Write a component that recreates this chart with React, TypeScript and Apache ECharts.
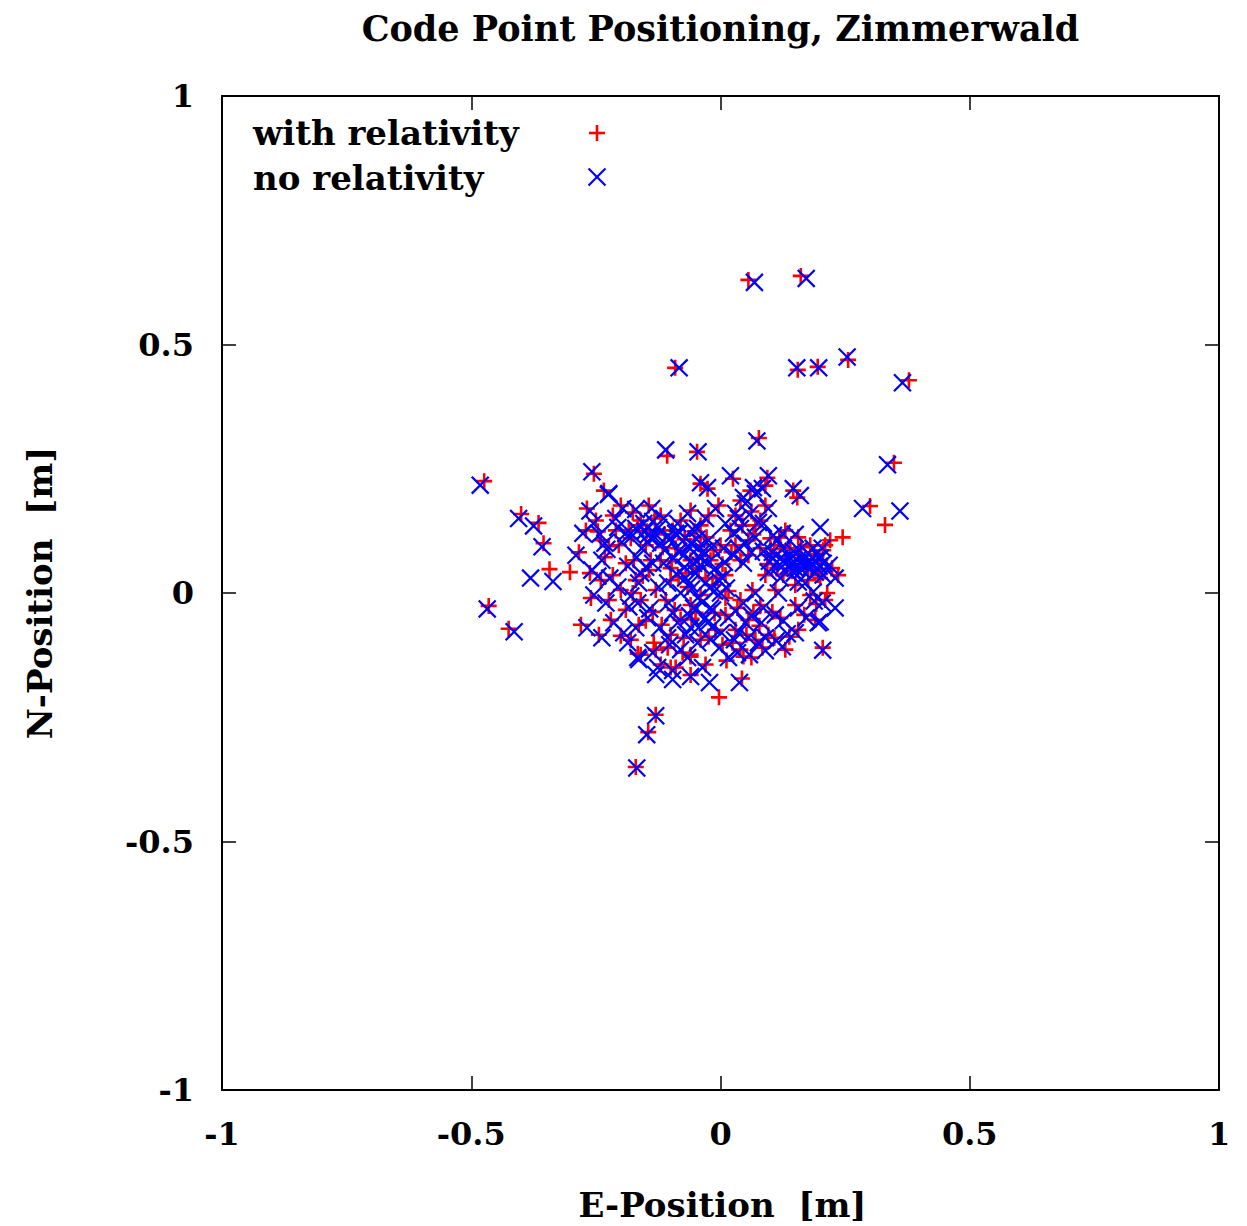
import React, { useEffect, useRef } from "react";
import * as echarts from "echarts";

const titleText = "Code Point Positioning, Zimmerwald";
const xName = "E-Position  [m]";
const yName = "N-Position  [m]";
const seriesNames = ["with relativity", "no relativity"];

// with relativity (red +), [E, N] in metres
const withRel: number[][] = [
  [0.056, 0.630], [0.161, 0.638], [-0.091, 0.453], [0.155, 0.449], [0.195, 0.455],
  [0.256, 0.469], [0.378, 0.428], [0.077, 0.312], [-0.047, 0.284], [-0.107, 0.276],
  [0.348, 0.262], [0.300, 0.175], [0.330, 0.137], [-0.474, 0.225], [-0.400, 0.159],
  [-0.365, 0.141], [-0.355, 0.100], [-0.343, 0.048], [-0.302, 0.042], [-0.465, -0.026],
  [-0.425, -0.072], [-0.280, -0.064], [0.245, 0.112], [-0.170, -0.350], [-0.145, -0.280],
  [-0.130, -0.245], [-0.003, -0.210], [0.043, -0.172], [0.205, -0.110], [-0.060, -0.165],
  [-0.100, -0.150], [-0.026, 0.210], [0.025, 0.230], [0.094, 0.232], [0.146, 0.206],
  [0.220, 0.106], [0.206, 0.086], [0.214, 0.000], [-0.040, 0.220],
  [-0.254, 0.240], [-0.234, 0.206], [-0.268, 0.170], [-0.250, 0.146], [-0.270, 0.126],
  [-0.240, 0.106], [-0.284, 0.082], [-0.232, 0.072], [-0.216, 0.156], [-0.200, 0.176],
  [-0.176, 0.162], [-0.184, 0.126], [-0.204, 0.096], [-0.160, 0.146], [-0.144, 0.176],
  [-0.130, 0.126], [-0.120, 0.156], [-0.150, 0.096], [-0.174, 0.066], [-0.216, 0.036],
  [-0.240, 0.026], [-0.260, -0.010], [-0.224, -0.014], [-0.200, 0.006], [-0.170, 0.026],
  [-0.144, 0.046], [-0.160, -0.014], [-0.190, -0.034], [-0.220, -0.054], [-0.244, -0.084],
  [-0.200, -0.086], [-0.164, -0.064], [-0.136, -0.038], [-0.110, -0.014], [-0.130, 0.006],
  [-0.100, 0.026], [-0.120, 0.066], [-0.090, 0.090], [-0.096, 0.126], [-0.080, 0.146],
  [-0.060, 0.166], [-0.040, 0.136], [-0.024, 0.156], [-0.004, 0.176], [-0.040, 0.096],
  [-0.060, 0.066], [-0.020, 0.066], [0.000, 0.096], [0.020, 0.126], [0.030, 0.156],
  [0.040, 0.186], [0.060, 0.206], [0.090, 0.216], [0.080, 0.146], [0.056, 0.106],
  [0.040, 0.066], [0.010, 0.036], [-0.016, 0.016], [-0.040, -0.004], [-0.060, -0.024],
  [-0.080, -0.054], [-0.100, -0.084], [-0.130, -0.114], [-0.160, -0.124], [-0.180, -0.094],
  [-0.120, -0.144], [-0.090, -0.150], [-0.060, -0.124], [-0.040, -0.094], [-0.010, -0.074],
  [0.010, -0.044], [0.040, -0.014], [0.064, 0.006], [0.090, 0.036], [0.100, 0.076],
  [0.120, 0.096], [0.140, 0.090], [0.160, 0.076], [0.180, 0.096], [0.200, 0.066],
  [0.196, 0.036], [0.176, 0.026], [0.150, 0.016], [0.126, 0.036], [0.110, 0.006],
  [0.080, -0.024], [0.056, -0.054], [0.030, -0.074], [0.004, -0.104], [-0.030, -0.144],
  [0.040, -0.114], [0.070, -0.094], [0.096, -0.084], [0.120, -0.050], [0.150, -0.024],
  [0.180, -0.004], [0.210, -0.014], [0.190, -0.054], [0.156, -0.074], [0.104, -0.038],
  [0.084, -0.110], [0.130, -0.114], [0.200, 0.030], [0.224, 0.050], [0.236, 0.036],
  [0.210, 0.096], [0.156, 0.112], [0.130, 0.126], [0.100, 0.110], [0.080, 0.090],
  [0.056, 0.076], [0.030, 0.096], [0.070, 0.136], [0.090, 0.176], [0.154, 0.192],
  [-0.166, -0.122], [-0.134, -0.100], [-0.060, -0.128], [0.046, -0.128], [-0.070, 0.040],
  [-0.030, 0.030], [-0.050, -0.040], [-0.100, 0.050], [0.010, -0.010], [0.170, 0.050],
  [-0.112, 0.118], [-0.098, 0.064], [-0.084, 0.032], [-0.072, 0.108], [-0.066, 0.012],
  [-0.052, 0.124], [-0.044, 0.050], [-0.036, 0.074], [-0.028, 0.112], [-0.014, 0.086],
  [-0.008, 0.030], [0.004, 0.058], [0.016, 0.004], [0.022, 0.082], [-0.092, -0.034],
  [-0.074, -0.090], [-0.058, -0.052], [-0.024, -0.088], [-0.012, -0.040], [0.024, -0.100],
  [0.034, -0.030], [0.052, -0.084], [0.066, -0.040], [0.078, -0.066], [0.094, 0.058],
  [0.108, 0.088], [0.114, 0.050], [0.132, 0.072], [0.144, 0.044], [0.162, 0.092],
  [0.174, 0.068], [0.188, 0.078], [0.202, 0.048], [0.118, 0.112], [0.066, 0.118],
  [0.044, 0.136], [0.062, 0.164], [-0.180, 0.110], [-0.166, 0.136], [-0.148, 0.124],
  [-0.132, 0.150], [-0.116, 0.092], [-0.140, 0.066], [-0.156, 0.034], [-0.190, 0.060],
  [-0.210, 0.126], [-0.224, 0.094], [-0.246, 0.124], [-0.262, 0.040], [-0.176, 0.000],
  [-0.150, -0.056], [-0.118, -0.064], [-0.106, -0.110], [-0.076, -0.120], [0.012, -0.136],
  [0.062, -0.130], [0.108, -0.090], [0.138, -0.088], [0.168, -0.044], [0.192, -0.022],
];

// no relativity (blue x), [E, N] in metres
const noRel: number[][] = [
  [0.068, 0.625], [0.172, 0.633], [-0.083, 0.453], [0.153, 0.453], [0.197, 0.453],
  [0.254, 0.475], [0.365, 0.423], [0.073, 0.306], [-0.045, 0.284], [-0.110, 0.288],
  [0.335, 0.258], [0.285, 0.170], [0.360, 0.165], [-0.482, 0.217], [-0.405, 0.150],
  [-0.375, 0.135], [-0.358, 0.093], [-0.381, 0.030], [-0.336, 0.023], [-0.468, -0.032],
  [-0.414, -0.078], [-0.268, -0.070], [-0.168, -0.352], [-0.148, -0.285], [-0.130, -0.247],
  [-0.022, -0.180], [0.038, -0.180], [0.205, -0.115], [0.200, -0.058], [0.230, -0.030],
  [-0.026, 0.212], [0.020, 0.236], [0.096, 0.236], [0.146, 0.210], [0.200, 0.132],
  [-0.040, 0.222], [-0.224, 0.200], [-0.164, -0.134], [-0.130, -0.164], [-0.096, -0.174],
  [-0.060, -0.168], [0.010, 0.140], [0.030, 0.160], [0.050, 0.180], [0.070, 0.200],
  [-0.258, 0.244], [-0.225, 0.198], [-0.262, 0.165], [-0.255, 0.140], [-0.276, 0.120],
  [-0.232, 0.100], [-0.290, 0.076], [-0.238, 0.066], [-0.210, 0.150], [-0.196, 0.170],
  [-0.170, 0.168], [-0.190, 0.120], [-0.198, 0.102], [-0.154, 0.140], [-0.138, 0.170],
  [-0.124, 0.132], [-0.114, 0.150], [-0.158, 0.090], [-0.168, 0.072], [-0.222, 0.030],
  [-0.246, 0.034], [-0.254, -0.004], [-0.230, -0.020], [-0.206, 0.012], [-0.164, 0.020],
  [-0.150, 0.052], [-0.166, -0.020], [-0.184, -0.028], [-0.214, -0.060], [-0.238, -0.090],
  [-0.194, -0.080], [-0.170, -0.070], [-0.142, -0.032], [-0.104, -0.020], [-0.124, 0.012],
  [-0.106, 0.020], [-0.114, 0.060], [-0.084, 0.084], [-0.090, 0.120], [-0.086, 0.140],
  [-0.066, 0.160], [-0.046, 0.130], [-0.030, 0.150], [-0.010, 0.170], [-0.046, 0.090],
  [-0.054, 0.060], [-0.026, 0.060], [0.006, 0.090], [0.026, 0.120], [0.036, 0.150],
  [0.046, 0.192], [0.066, 0.212], [0.084, 0.210], [0.086, 0.140], [0.050, 0.100],
  [0.046, 0.060], [0.004, 0.030], [-0.022, 0.010], [-0.046, -0.010], [-0.054, -0.030],
  [-0.086, -0.060], [-0.106, -0.090], [-0.136, -0.120], [-0.166, -0.130], [-0.186, -0.100],
  [-0.126, -0.150], [-0.096, -0.156], [-0.066, -0.130], [-0.046, -0.100], [-0.016, -0.068],
  [0.016, -0.050], [0.046, -0.020], [0.070, 0.000], [0.096, 0.042], [0.106, 0.070],
  [0.126, 0.090], [0.146, 0.084], [0.166, 0.070], [0.186, 0.090], [0.206, 0.060],
  [0.190, 0.042], [0.170, 0.020], [0.156, 0.022], [0.120, 0.030], [0.116, 0.000],
  [0.086, -0.030], [0.050, -0.060], [0.036, -0.080], [-0.002, -0.110], [-0.036, -0.150],
  [0.034, -0.120], [0.076, -0.100], [0.090, -0.090], [0.126, -0.056], [0.156, -0.030],
  [0.186, 0.002], [0.204, -0.020], [0.196, -0.060], [0.150, -0.080], [0.110, -0.044],
  [0.090, -0.116], [0.124, -0.108], [0.206, 0.036], [0.218, 0.056], [0.230, 0.030],
  [0.204, 0.090], [0.150, 0.118], [0.124, 0.120], [0.106, 0.116], [0.086, 0.084],
  [0.062, 0.082], [0.036, 0.090], [0.076, 0.142], [0.096, 0.170], [0.160, 0.196],
  [0.130, 0.060], [0.150, 0.050], [0.170, 0.055], [0.190, 0.065], [0.140, 0.070],
  [-0.070, 0.030], [-0.050, 0.040], [-0.030, 0.020], [-0.080, 0.000], [-0.020, -0.030],
  [0.000, 0.000], [-0.010, 0.050], [-0.120, 0.100], [-0.100, 0.110], [-0.140, 0.110],
  [-0.060, 0.100], [-0.030, -0.050], [-0.060, -0.070],
  [-0.108, 0.112], [-0.094, 0.070], [-0.088, 0.038], [-0.076, 0.104], [-0.062, 0.018],
  [-0.056, 0.128], [-0.040, 0.056], [-0.040, 0.070], [-0.024, 0.106], [-0.018, 0.092],
  [-0.004, 0.026], [0.008, 0.062], [0.012, 0.010], [0.026, 0.076], [-0.096, -0.040],
  [-0.070, -0.084], [-0.062, -0.046], [-0.020, -0.094], [-0.016, -0.034], [0.028, -0.094],
  [0.030, -0.036], [0.056, -0.090], [0.062, -0.046], [0.082, -0.060], [0.098, 0.064],
  [0.104, 0.082], [0.118, 0.056], [0.128, 0.066], [0.148, 0.040], [0.158, 0.086],
  [0.178, 0.062], [0.184, 0.072], [0.198, 0.054], [0.114, 0.106], [0.070, 0.112],
  [0.040, 0.130], [0.058, 0.158], [-0.176, 0.116], [-0.170, 0.130], [-0.144, 0.118],
  [-0.136, 0.144], [-0.112, 0.086], [-0.136, 0.060], [-0.160, 0.040], [-0.186, 0.054],
  [-0.206, 0.132], [-0.228, 0.088], [-0.242, 0.118], [-0.258, 0.046], [-0.180, -0.006],
  [-0.146, -0.050], [-0.122, -0.070], [-0.102, -0.104], [-0.080, -0.114], [0.016, -0.130],
  [0.058, -0.124], [0.112, -0.096], [0.134, -0.082], [0.172, -0.050], [0.188, -0.016],
  [0.160, 0.060], [0.180, 0.050], [0.120, 0.070], [0.200, 0.070], [0.175, 0.080],
  [-0.074, 0.076], [-0.064, 0.092], [-0.048, 0.108], [-0.034, 0.084], [-0.072, 0.052],
  [-0.058, 0.008], [-0.036, -0.018], [-0.012, 0.004], [-0.082, 0.122], [-0.152, 0.124],
  [-0.128, 0.116], [-0.146, 0.102], [0.136, 0.054], [0.154, 0.066], [0.164, 0.046],
  [0.144, 0.060], [0.186, 0.058], [-0.026, -0.060], [-0.044, -0.070], [0.002, -0.080],
];

const FONT = "'DejaVu Serif', 'Liberation Serif', serif";
const plusPath = "path://M0,6.7H16V9.3H0Z M6.7,0H9.3V16H6.7Z";
const crossPath = "path://M0,10.9H24V13.1H0Z M10.9,0H13.1V24H10.9Z";

export default function App() {
  const ref = useRef<HTMLDivElement>(null);
  useEffect(() => {
    if (!ref.current) return;
    const chart = echarts.init(ref.current, null, { renderer: "svg" });
    const gridL = 222, gridT = 96, gridR = 28, gridB = 136;
    const cx = gridL + (1247 - gridL - gridR) / 2;
    const cy = gridT + (1226 - gridT - gridB) / 2;
    const axisCommon = {
      type: "value" as const,
      min: -1,
      max: 1,
      interval: 0.5,
      splitLine: { show: false },
      axisLine: { show: true, onZero: false, lineStyle: { color: "#000", width: 2 } },
      axisTick: { show: true, inside: true, length: 14, lineStyle: { color: "#000", width: 1.5 } },
    };
    const labelStyle = {
      fontFamily: FONT,
      fontWeight: "bold" as const,
      fontSize: 32,
      color: "#000",
      margin: 28,
    };
    chart.setOption({
      animation: false,
      backgroundColor: "#fff",
      grid: { left: gridL, top: gridT, right: gridR, bottom: gridB, containLabel: false },
      xAxis: [
        { ...axisCommon, position: "bottom", axisLabel: { ...labelStyle, showMinLabel: true, showMaxLabel: true } },
        { ...axisCommon, position: "top", axisLabel: { show: false } },
      ],
      yAxis: [
        { ...axisCommon, position: "left", axisLabel: { ...labelStyle, showMinLabel: true, showMaxLabel: true } },
        { ...axisCommon, position: "right", axisLabel: { show: false } },
      ],
      series: [
        {
          name: seriesNames[0],
          type: "scatter",
          data: withRel,
          symbol: plusPath,
          symbolSize: 16,
          itemStyle: { color: "#ff0000", opacity: 1 },
          z: 2,
        },
        {
          name: seriesNames[1],
          type: "scatter",
          data: noRel,
          symbol: crossPath,
          symbolSize: 24,
          symbolRotate: 45,
          itemStyle: { color: "#0000ff", opacity: 1 },
          z: 3,
        },
      ],
      graphic: [
        {
          type: "text",
          x: cx,
          y: 28,
          style: { text: titleText, font: `bold 35px ${FONT}`, fill: "#000", align: "center", verticalAlign: "middle" },
        },
        {
          type: "text",
          x: cx + 2,
          y: 1205,
          style: { text: xName, font: `bold 34px ${FONT}`, fill: "#000", align: "center", verticalAlign: "middle" },
        },
        {
          type: "text",
          x: 40,
          y: cy,
          rotation: Math.PI / 2,
          style: { text: yName, font: `bold 34px ${FONT}`, fill: "#000", align: "center", verticalAlign: "middle" },
        },
        {
          type: "text",
          x: 253,
          y: 133,
          style: { text: seriesNames[0], font: `bold 34px ${FONT}`, fill: "#000", align: "left", verticalAlign: "middle" },
        },
        {
          type: "text",
          x: 253,
          y: 178,
          style: { text: seriesNames[1], font: `bold 34px ${FONT}`, fill: "#000", align: "left", verticalAlign: "middle" },
        },
        {
          type: "group",
          x: 597,
          y: 133,
          children: [
            { type: "rect", shape: { x: -8, y: -1.3, width: 16, height: 2.6 }, style: { fill: "#ff0000" } },
            { type: "rect", shape: { x: -1.3, y: -8, width: 2.6, height: 16 }, style: { fill: "#ff0000" } },
          ],
        },
        {
          type: "group",
          x: 597,
          y: 177,
          rotation: Math.PI / 4,
          children: [
            { type: "rect", shape: { x: -12, y: -1.1, width: 24, height: 2.2 }, style: { fill: "#0000ff" } },
            { type: "rect", shape: { x: -1.1, y: -12, width: 2.2, height: 24 }, style: { fill: "#0000ff" } },
          ],
        },
      ],
    });
    return () => chart.dispose();
  }, []);
  return (
    <div
      ref={ref}
      style={{ position: "fixed", left: 0, top: 0, width: 1247, height: 1226, background: "#fff" }}
    />
  );
}
